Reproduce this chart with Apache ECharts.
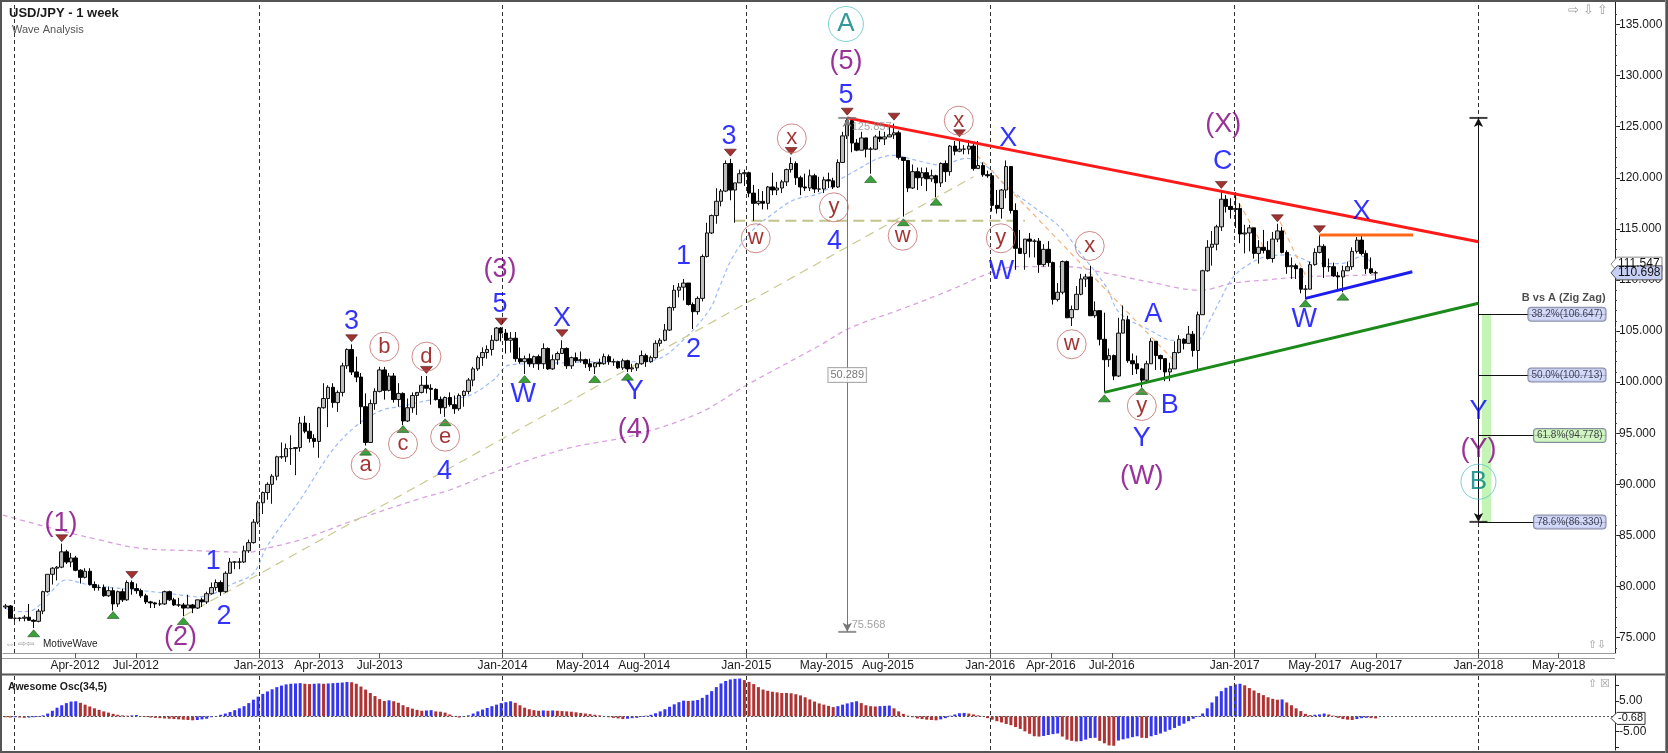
<!DOCTYPE html>
<html>
<head>
<meta charset="utf-8">
<title>USD/JPY - 1 week</title>
<script src="https://cdn.jsdelivr.net/npm/echarts@6.0.0/dist/echarts.min.js"></script>
<style>
html,body{margin:0;padding:0;background:#fff;overflow:hidden}
#chart{width:1668px;height:753px}
</style>
</head>
<body>
<div id="chart"></div>
<script>
// ================= DATA =================
const firstWeek = '2011-12-19';   // weekly candles, Monday of each week
// [open, high, low, close]
const ohlc2011 = [[78.0,78.3,77.8,78.1],[78.1,78.2,76.9,76.9]];
const ohlc2012 = [
[76.9,77.3,76.6,76.9],[76.9,77.0,76.6,76.9],[76.9,77.2,76.6,77.0],[77.0,78.3,76.9,76.7],[76.7,76.8,75.95,76.6],
[76.6,77.8,76.5,77.6],[77.6,79.6,77.3,79.5],[79.5,81.2,79.4,81.2],[81.2,81.9,80.2,81.8],
[81.8,82.0,80.6,81.9],[81.9,84.2,81.8,83.4],[83.4,83.6,82.2,82.4],[82.4,83.3,81.9,82.8],
[82.8,83.0,81.5,81.6],[81.6,81.7,80.3,80.9],[80.9,81.8,80.8,81.5],[81.5,81.8,80.1,80.2],[80.2,80.5,79.6,79.9],
[79.9,80.2,79.6,79.9],[79.9,80.2,79.0,79.1],[79.1,80.0,79.0,79.6],[79.6,79.9,77.65,78.3],
[78.3,79.6,78.0,79.5],[79.5,79.8,78.5,78.7],[78.7,80.6,78.6,80.4],[80.4,80.6,79.2,79.8],
[79.8,80.3,79.3,79.6],[79.6,79.8,78.9,79.1],[79.1,79.3,78.3,78.5],[78.5,78.6,77.9,78.4],[78.4,78.5,77.9,78.3],
[78.3,78.7,78.1,78.3],[78.3,79.6,78.2,79.5],[79.5,79.6,78.6,78.7],[78.7,78.9,78.1,78.2],
[78.2,78.9,78.0,78.2],[78.2,78.4,77.1,77.9],[77.9,79.2,77.9,78.2],[78.2,78.3,77.4,77.9],
[77.9,78.7,77.8,78.7],[78.7,78.9,78.0,78.5],[78.5,79.5,78.3,79.3],[79.3,80.4,79.2,79.9],[79.9,80.7,79.6,80.4],
[80.4,80.6,79.1,79.5],[79.5,81.5,79.4,81.3],[81.3,82.8,81.3,82.4],[82.4,82.5,81.7,82.4],
[82.4,82.8,81.7,82.4],[82.4,84.0,82.3,83.5],[83.5,84.6,83.3,84.3],[84.3,86.6,84.2,86.3],[86.3,88.4,86.1,88.2]];
const ohlc2013 = [
[88.2,89.3,87.1,89.2],[89.2,90.2,88.5,90.0],[90.0,91.0,88.1,90.8],[90.8,92.8,90.4,92.7],
[92.7,94.1,92.5,92.7],[92.7,94.0,92.2,93.5],[93.5,94.8,91.9,93.5],[93.5,93.5,90.9,93.6],
[93.6,96.6,93.2,96.0],[96.0,96.7,95.0,95.2],[95.2,96.0,94.1,94.5],[94.5,94.9,93.6,94.2],
[94.2,97.6,92.6,97.5],[97.5,99.9,97.4,98.4],[98.4,99.7,95.6,99.5],[99.5,99.9,97.5,98.0],[98.0,99.2,97.1,99.0],
[99.0,101.9,98.6,101.6],[101.6,103.3,101.3,103.2],[103.2,103.7,100.7,101.0],[101.0,102.5,100.0,100.5],
[100.5,100.9,95.9,97.6],[97.6,98.9,93.8,94.1],[94.1,98.3,94.1,97.9],[97.9,99.4,97.3,99.1],
[99.1,101.5,99.0,101.2],[101.2,101.5,98.3,99.2],[99.2,100.9,99.1,100.6],[100.6,100.9,98.0,98.3],[98.3,99.9,97.6,98.9],
[98.9,99.0,95.8,96.2],[96.2,98.4,96.1,97.5],[97.5,99.0,97.0,98.7],[98.7,98.9,96.8,99.0],
[99.0,100.6,98.9,99.7],[99.7,100.6,98.9,99.4],[99.4,99.8,97.8,99.3],[99.3,99.4,98.2,98.3],[98.3,98.6,96.9,97.5],
[97.5,98.6,96.6,98.5],[98.5,99.0,97.6,97.8],[97.8,98.7,96.9,97.4],[97.4,98.9,97.2,98.7],
[98.7,99.2,97.6,99.1],[99.1,100.4,98.8,100.2],[100.2,101.5,99.6,101.3],[101.3,102.6,101.1,102.4],
[102.4,103.4,101.6,102.9],[102.9,103.6,102.3,103.2],[103.2,104.6,102.6,104.1],[104.1,105.4,104.0,105.3],[105.3,105.4,104.0,104.8]];
const ohlc2014 = [
[104.8,105.2,102.8,104.1],[104.1,104.9,102.9,104.3],[104.3,104.9,102.0,102.3],[102.3,103.4,101.8,102.0],
[102.0,102.6,100.8,102.3],[102.3,102.8,101.5,101.8],[101.8,102.6,101.4,102.5],[102.5,102.7,101.2,101.8],
[101.8,103.8,101.3,103.3],[103.3,103.4,101.2,101.3],[101.3,102.7,101.2,102.2],[102.2,103.0,101.7,102.8],[102.8,104.1,102.8,103.3],
[103.3,103.4,101.3,101.6],[101.6,102.5,101.3,102.4],[102.4,102.9,101.9,102.1],[102.1,103.0,101.9,102.2],
[102.2,102.3,101.4,101.8],[101.8,102.3,101.1,101.5],[101.5,101.8,100.8,101.9],[101.9,102.3,101.5,101.8],
[101.8,102.8,101.7,102.5],[102.5,102.7,101.7,102.0],[102.0,102.3,101.6,102.0],[102.0,102.1,101.3,101.4],[101.4,102.3,101.2,102.1],
[102.1,102.2,101.0,101.3],[101.3,101.8,101.0,101.4],[101.4,101.9,101.1,101.8],[101.8,103.1,101.7,102.6],
[102.6,102.8,101.5,102.0],[102.0,102.6,101.9,102.4],[102.4,104.1,102.3,103.8],[103.8,104.3,103.5,104.1],
[104.1,105.7,104.0,105.1],[105.1,107.4,105.0,107.3],[107.3,109.5,107.0,109.0],[109.0,109.7,108.3,109.3],[109.3,110.1,108.0,109.7],
[109.7,109.7,107.5,107.6],[107.6,107.8,105.2,106.9],[106.9,108.4,106.6,108.2],[108.2,112.5,107.9,112.3],
[112.3,115.6,112.2,114.6],[114.6,116.4,114.5,116.3],[116.3,118.98,115.5,117.7],[117.7,118.9,117.2,118.7],
[118.7,121.7,118.6,121.4],[121.4,121.85,117.8,118.8],[118.8,119.5,115.6,119.5],[119.5,120.8,119.5,120.4],[120.4,120.8,119.2,120.5]];
const ohlc2015 = [
[120.5,120.6,118.1,118.5],[118.5,119.3,115.8,117.5],[117.5,118.9,117.3,117.7],[117.7,118.7,116.9,117.5],
[117.5,119.2,116.9,119.1],[119.1,120.5,118.3,118.8],[118.8,119.6,118.3,119.0],[119.0,119.8,118.5,119.6],
[119.6,120.9,119.2,120.8],[120.8,122.0,120.5,121.4],[121.4,121.6,119.3,120.0],[120.0,120.2,118.3,119.1],[119.1,120.4,118.7,119.0],
[119.0,120.8,118.7,120.2],[120.2,120.4,118.5,118.9],[118.9,120.1,118.6,118.9],[118.9,120.1,118.5,119.8],
[119.8,120.5,119.0,119.7],[119.7,120.0,118.9,119.1],[119.1,121.8,119.0,121.5],[121.5,124.5,121.5,124.1],
[124.1,125.86,123.8,125.6],[125.6,125.7,122.5,123.4],[123.4,123.8,122.6,122.7],[122.7,124.5,122.7,123.9],[123.9,123.9,122.0,122.8],
[122.8,123.0,120.4,122.8],[122.8,124.2,122.7,124.0],[124.0,124.6,123.5,123.8],[123.8,124.5,123.2,124.0],
[124.0,125.1,124.0,124.2],[124.2,125.3,123.8,124.4],[124.4,124.6,121.8,122.0],[122.0,122.0,116.2,121.7],[121.7,121.7,118.6,119.0],
[119.0,121.3,118.9,120.6],[120.6,121.0,118.8,120.0],[120.0,121.0,119.2,120.5],[120.5,121.0,118.7,119.9],
[119.9,120.8,119.6,120.2],[120.2,120.3,118.1,119.5],[119.5,121.5,119.1,121.4],[121.4,121.7,119.6,120.6],
[120.6,123.2,120.2,123.1],[123.1,123.6,122.2,122.6],[122.6,123.8,122.5,122.8],[122.8,123.2,122.3,122.8],[122.8,123.7,122.3,123.1],
[123.1,123.3,120.7,120.9],[120.9,123.6,120.9,121.2],[121.2,121.5,120.1,120.3],[120.3,120.7,120.0,120.2]];
const ohlc2016 = [
[120.2,120.5,116.7,117.3],[117.3,118.8,116.5,117.0],[117.0,118.9,116.0,118.8],[118.8,121.7,118.0,121.1],
[121.1,121.1,116.5,116.8],[116.8,117.5,111.0,113.1],[113.1,114.9,112.6,112.6],[112.6,114.0,111.0,114.0],[114.0,114.6,112.2,113.8],
[113.8,114.0,112.2,113.8],[113.8,114.1,110.7,111.5],[111.5,113.5,111.3,113.0],[113.0,113.8,111.3,111.7],
[111.7,111.8,107.6,108.1],[108.1,109.7,107.9,108.8],[108.8,111.9,108.6,111.8],[111.8,111.9,106.3,106.3],
[106.3,107.5,105.5,107.1],[107.1,109.4,107.1,108.6],[108.6,110.6,108.5,110.1],[110.1,110.6,109.3,110.3],[110.3,111.4,106.5,106.5],
[106.5,107.9,106.3,107.0],[107.0,107.0,103.6,104.2],[104.2,106.8,99.0,102.2],[102.2,103.3,101.5,102.6],
[102.6,102.7,100.2,100.6],[100.6,106.3,100.5,104.8],[104.8,107.5,104.8,106.1],[106.1,106.5,101.9,102.1],
[102.1,102.8,100.7,101.8],[101.8,102.6,100.8,101.3],[101.3,101.4,99.5,100.2],[100.2,102.1,99.9,101.8],[101.8,104.3,101.8,104.0],
[104.0,104.0,101.2,102.6],[102.6,102.7,101.2,102.3],[102.3,102.3,100.1,101.0],[101.0,101.9,100.1,101.3],
[101.3,104.0,101.3,102.9],[102.9,104.6,102.8,104.2],[104.2,104.3,103.2,103.8],[103.8,105.5,103.8,104.7],[104.7,105.0,102.5,103.1],
[103.1,106.9,101.2,106.6],[106.6,111.0,106.6,110.9],[110.9,113.9,110.8,113.2],[113.2,114.8,111.4,113.5],
[113.5,115.4,112.9,115.2],[115.2,118.66,114.8,117.9],[117.9,118.3,116.6,117.2],[117.2,118.0,116.0,116.9]];
const ohlc2017 = [
[116.9,118.6,115.1,117.0],[117.0,117.5,113.6,114.5],[114.5,115.4,112.6,114.6],[114.6,115.4,112.8,115.1],[115.1,115.1,112.1,112.6],
[112.6,113.9,111.6,113.2],[113.2,114.9,112.6,112.9],[112.9,113.8,112.0,112.1],[112.1,114.7,111.7,114.0],
[114.0,115.5,113.7,114.8],[114.8,115.2,112.6,112.7],[112.7,112.9,110.6,111.3],[111.3,112.2,110.1,111.4],
[111.4,111.6,110.1,111.1],[111.1,111.2,108.7,109.1],[109.1,109.5,108.1,109.1],[109.1,111.8,109.1,111.5],
[111.5,113.1,111.4,112.7],[112.7,114.37,112.6,113.3],[113.3,113.5,110.2,111.3],[111.3,112.1,110.8,111.3],[111.3,111.7,110.3,110.4],
[110.4,110.8,109.1,110.3],[110.3,111.4,108.8,110.9],[110.9,111.8,110.9,111.3],[111.3,113.2,111.0,112.8],
[112.8,114.2,112.6,113.9],[113.9,114.5,112.4,112.6],[112.6,112.9,110.6,111.1],[111.1,112.2,110.6,110.7],[110.7,110.9,109.9,110.7]];

// Awesome Oscillator (34,5), one value per weekly candle
const ao2011 = [-0.3,-0.4];
const ao2012 = [-0.3,-0.4,-0.5,-0.4,-0.3,-0.2,0.3,0.9,1.8,2.8,3.6,4.3,4.8,4.9,4.4,3.8,3.2,2.6,2.1,1.6,1.2,0.8,0.5,0.3,0.2,0.3,0.4,0.1,-0.2,-0.4,-0.5,-0.6,-0.7,-0.8,-0.9,-1.0,-1.1,-1.2,-1.3,-1.2,-1.0,-0.8,-0.3,0.1,0.5,0.9,1.4,2.0,2.6,3.3,4.3,5.4,6.4];
const ao2013 = [7.3,8.1,8.8,9.5,10.0,10.4,10.6,10.7,10.8,10.6,10.5,10.6,10.7,10.6,10.7,10.8,10.9,11.0,11.2,11.1,10.6,9.7,8.7,7.6,6.6,5.6,5.0,5.2,4.9,4.4,3.6,3.0,2.5,2.1,1.8,1.9,2.0,1.6,1.5,1.2,0.6,0.1,-0.4,-0.2,0.3,0.9,1.6,2.2,2.7,3.3,3.8,4.3];
const ao2014 = [4.6,4.9,4.4,3.6,2.8,2.3,2.0,1.8,1.9,1.8,1.9,1.8,1.7,1.6,1.5,1.3,1.1,0.9,0.7,0.5,0.3,0.1,-0.3,-0.5,-0.7,-0.9,-0.8,-0.6,-0.5,-0.2,0.2,0.5,1.0,1.6,2.3,3.1,3.9,4.6,5.1,5.0,5.1,5.3,6.0,7.0,8.2,9.5,10.7,11.5,12.0,12.2,12.3,11.8];
const ao2015 = [11.2,10.5,9.5,8.7,8.3,8.0,7.8,7.6,7.6,7.5,7.2,6.8,6.2,5.5,4.8,4.2,3.8,3.4,3.0,3.3,3.8,4.2,4.6,4.9,4.3,3.6,3.3,3.2,3.3,3.4,3.5,2.6,1.6,0.8,0.2,-0.3,-0.7,-0.9,-1.1,-1.2,-1.3,-1.0,-0.6,0.2,0.6,1.0,1.1,0.9,0.6,0.3,-0.1,-0.6];
const ao2016 = [-1.1,-1.6,-2.0,-2.5,-2.9,-3.5,-4.1,-4.9,-5.7,-6.5,-6.6,-6.4,-6.1,-5.8,-5.6,-6.6,-7.6,-8.0,-8.2,-8.1,-7.6,-7.1,-7.0,-8.0,-8.8,-9.5,-9.6,-7.9,-7.5,-7.2,-6.8,-6.5,-7.0,-7.1,-6.5,-6.1,-5.6,-5.0,-4.4,-3.8,-3.1,-2.4,-1.6,-0.8,-0.2,0.9,2.6,4.5,6.5,8.2,9.3,9.9];
const ao2017 = [10.4,10.6,10.1,9.2,8.4,7.6,6.9,6.2,5.7,5.4,5.5,4.5,3.6,2.6,1.7,0.8,0.4,0.5,0.6,0.9,0.6,0.2,-0.5,-0.9,-1.1,-1.2,-0.9,-0.6,-0.5,-0.6,-0.68];

// moving averages [date, price]
const maFast = [['2011-12-17',77.9],['2012-01-09',77.55],['2012-01-29',77.7],['2012-02-23',79.35],['2012-03-19',80.65],['2012-04-23',80.15],['2012-06-27',79.7],['2012-08-16',79.35],['2012-10-05',79.0],['2012-11-24',80.3],['2012-12-24',81.3],['2013-01-13',83.9],['2013-03-04',88.5],['2013-04-22',93.4],['2013-06-01',96.0],['2013-07-06',97.3],['2013-07-31',97.6],['2013-09-19',98.3],['2013-11-08',98.6],['2013-12-18',100.2],['2014-01-12',101.7],['2014-03-13',101.85],['2014-05-27',102.0],['2014-07-16',102.0],['2014-08-25',102.35],['2014-09-28',104.1],['2014-11-07',107.1],['2014-11-22',109.35],['2014-12-12',112.3],['2015-01-11',114.9],['2015-02-10',116.5],['2015-03-12',117.8],['2015-04-21',118.5],['2015-06-05',120.4],['2015-08-09',122.2],['2015-09-13',121.7],['2015-10-18',121.25],['2015-11-27',121.9],['2015-12-27',121.1],['2016-01-26',119.1],['2016-03-05',117.2],['2016-04-14',115.2],['2016-05-19',112.3],['2016-06-23',109.3],['2016-07-13',106.75],['2016-08-27',105.1],['2016-10-01',104.1],['2016-11-05',104.1],['2016-11-25',106.1],['2016-12-10',108.0],['2016-12-30',110.3],['2017-01-24',111.6],['2017-02-18',112.3],['2017-03-25',112.45],['2017-05-04',111.6],['2017-06-08',111.6],['2017-07-12',112.3],['2017-07-27',111.5]];
const maSlow = [['2011-12-15',87.0],['2012-03-09',85.5],['2012-05-08',84.56],['2012-07-07',83.75],['2012-10-05',83.5],['2012-12-19',83.36],['2013-01-03',83.6],['2013-03-04',84.56],['2013-05-18',86.35],['2013-08-30',88.6],['2013-10-14',89.45],['2013-12-28',91.4],['2014-04-07',93.5],['2014-07-16',94.8],['2014-10-23',97.0],['2015-01-01',99.7],['2015-04-21',103.6],['2015-06-05',105.3],['2015-08-19',107.1],['2015-11-02',109.0],['2016-01-01',110.7],['2016-02-10',111.3],['2016-04-24',111.3],['2016-06-13',110.8],['2016-08-27',109.8],['2016-11-10',109.0],['2016-12-30',109.7],['2017-02-18',110.0],['2017-04-09',110.3],['2017-05-29',110.4],['2017-08-01',110.5]];

// trend lines [date, price]
const redLine = [['2015-06-01',125.86],['2018-01-01',113.75]];
const greenLine = [['2016-06-20',99.0],['2018-01-01',107.72]];
const blueLine = [['2017-04-17',108.2],['2017-09-24',110.8]];
const orangeLine = [['2017-05-08',114.4],['2017-09-25',114.4]];
const tanDiag = [['2012-09-11',77.13],['2015-12-07',120.1]];
const tanFlat = [['2014-12-14',115.8],['2016-02-22',115.8]];
const orangeDash1 = [['2015-12-12',122.2],['2016-10-06',101.85]];
const orangeDash2 = [['2017-01-01',118.3],['2017-02-13',113.26]];
const orangeDash3 = [['2017-03-10',115.7],['2017-04-19',110.17]];

// measuring tools
const measure1 = {date:'2015-06-01', top:125.857, bottom:75.568, diff:'50.289'};
const measure2 = {date:'2018-01-01', top:125.857, bottom:86.330};
const fibNames = ['38.2%','50.0%','61.8%','78.6%'];
const fibValues = [106.647, 100.713, 94.778, 86.330];
const fibLabelDate = '2018-07-11';
const fibZone = [['2018-01-06',106.647],['2018-01-20',86.330]];

// wave labels [date, price, text]
const purpleLabels = [['2012-03-11',86.2,'(1)'],['2012-09-06',75.05,'(2)'],['2013-12-28',110.98,'(3)'],['2014-07-17',95.32,'(4)'],['2015-05-30',131.36,'(5)'],['2016-08-15',90.75,'(W)'],['2016-12-15',125.17,'(X)'],['2018-01-01',93.37,'(Y)']];
const blueLabels = [['2012-10-25',82.44,'1'],['2012-11-10',77.06,'2'],['2013-05-20',105.92,'3'],['2013-10-06',91.24,'4'],['2013-12-28',107.55,'5'],['2014-02-01',98.75,'W'],['2014-03-31',106.25,'X'],['2014-07-18',99.07,'Y'],['2014-09-29',112.28,'1'],['2014-10-14',103.15,'2'],['2014-12-06',124.02,'3'],['2015-05-13',113.75,'4'],['2015-05-30',128.0,'5'],['2016-01-28',123.86,'X'],['2016-01-18',110.81,'W'],['2016-09-01',106.58,'A'],['2016-09-26',97.67,'B'],['2016-08-15',94.51,'Y'],['2016-12-14',121.58,'C'],['2017-07-10',116.68,'X'],['2017-04-15',106.14,'W'],['2018-01-01',97.11,'Y']];
const circleLabels = [['2013-06-10',91.9,'a'],['2013-07-08',103.47,'b'],['2013-08-05',93.95,'c'],['2013-09-09',102.5,'d'],['2013-10-07',94.67,'e'],['2015-01-15',114.08,'w'],['2015-03-10',123.86,'x'],['2015-05-12',117.11,'y'],['2015-08-23',114.33,'w'],['2015-11-15',125.59,'x'],['2016-01-17',114.08,'y'],['2016-05-29',113.33,'x'],['2016-05-02',103.71,'w'],['2016-08-15',97.67,'y']];
const tealLabels = [['2015-05-30',135.05,'A'],['2018-01-01',90.26,'B']];
const highMarks = [['2012-03-12',84.73],['2012-06-25',81.13],['2013-05-20',104.3],['2013-09-09',101.2],['2013-12-30',105.92],['2014-03-31',104.78],['2014-12-08',122.46],['2015-03-09',122.62],['2015-06-01',126.47],['2015-08-10',125.98],['2015-11-16',124.35],['2016-12-12',119.3],['2017-03-06',116.04],['2017-05-08',114.96]];
const lowMarks = [['2012-01-30',75.43],['2012-05-28',77.22],['2012-09-10',76.63],['2013-06-10',93.2],['2013-08-05',95.42],['2013-10-07',96.08],['2014-02-03',100.31],['2014-05-19',100.31],['2014-07-07',100.54],['2015-07-06',119.88],['2015-08-24',115.65],['2015-10-12',117.66],['2016-06-20',98.42],['2016-08-15',99.14],['2017-04-17',107.72],['2017-06-12',108.37]];

// axes
const xTickLabels = ['2012-04-01','2012-07-01','2013-01-01','2013-04-01','2013-07-01','2014-01-01','2014-05-01','2014-08-01','2015-01-01','2015-05-01','2015-08-01','2016-01-01','2016-04-01','2016-07-01','2017-01-01','2017-05-01','2017-08-01','2018-01-01','2018-05-01'];
const yearLines = ['2012-01-01','2013-01-01','2014-01-01','2015-01-01','2016-01-01','2017-01-01','2018-01-01'];
const yTickLabels = [75,80,85,90,95,100,105,110,115,120,125,130,135];
const oscTickLabels = [5,-5];
const lastClose = 110.698, lastMA = 111.547, lastAO = -0.68;

// ================= CHART =================
const FONT = '"Liberation Sans", Arial, Helvetica, sans-serif';
const MON = ['Jan','Feb','Mar','Apr','May','Jun','Jul','Aug','Sep','Oct','Nov','Dec'];
function J(s){const p=s.split('-').map(Number);return new Date(p[0],p[1]-1,p[2]).getTime();}
const DAY = 86400000;
const ohlcAll = [].concat(ohlc2011, ohlc2012, ohlc2013, ohlc2014, ohlc2015, ohlc2016, ohlc2017);
const aoAll = [].concat(ao2011, ao2012, ao2013, ao2014, ao2015, ao2016, ao2017);
const fp = firstWeek.split('-').map(Number);
const weeks = ohlcAll.map((d,i)=> new Date(fp[0], fp[1]-1, fp[2] + 7*i).getTime());
const candleData = ohlcAll.map((d,i)=>[weeks[i], d[0], d[3], d[2], d[1]]);
const AO_BLUE = '#3636f2', AO_RED = '#b03232';
const aoData = aoAll.map((v,i)=>({value:[weeks[i], v], itemStyle:{color:(i>0 && v>aoAll[i-1]) ? AO_BLUE : AO_RED}}));

const xMin = J('2012-01-01') - 16.9*DAY;
const xMax = J('2012-01-01') + 2396.4*DAY;
const pts = a => a.map(p=>[J(p[0]), p[1]]);

function lineSeries(data, color, width, type, z, smooth){
  return {type:'line', xAxisIndex:0, yAxisIndex:0, data:pts(data), showSymbol:false, symbol:'none', smooth:smooth||false,
    lineStyle:{color, width, type}, silent:true, z, animation:false, emphasis:{disabled:true}};
}
function textSeries(arr, color, size, z){
  return {type:'scatter', xAxisIndex:0, yAxisIndex:0, symbolSize:1, silent:true, z, animation:false,
    itemStyle:{color:'rgba(0,0,0,0)'}, emphasis:{disabled:true},
    label:{show:true, position:'inside', formatter:p=>p.data[2], color, fontSize:size, fontFamily:FONT},
    data: arr.map(a=>[J(a[0]), a[1], a[2]])};
}
function circleSeries(arr, color, ring, size, fs, z){
  return {type:'scatter', xAxisIndex:0, yAxisIndex:0, symbol:'circle', symbolSize:size, silent:true, z, animation:false,
    itemStyle:{color:'rgba(255,255,255,0)', borderColor:ring, borderWidth:1}, emphasis:{disabled:true},
    label:{show:true, position:'inside', formatter:p=>p.data[2], color, fontSize:fs, fontFamily:FONT},
    data: arr.map(a=>[J(a[0]), a[1], a[2]])};
}

const chart = echarts.init(document.getElementById('chart'), null, {renderer:'canvas'});
const axisTextColor = '#1a1a1a';

const option = {
  animation:false,
  backgroundColor:'#ffffff',
  textStyle:{fontFamily:FONT},
  grid:[
    {left:3, right:53, top:2, height:651},
    {left:3, right:53, top:674, height:76}
  ],
  xAxis:[
    {type:'value', gridIndex:0, min:xMin, max:xMax, scale:true,
      axisLine:{show:true, onZero:false, lineStyle:{color:'#9a9a9a', width:1}},
      axisTick:{show:true, length:5, inside:false, customValues:xTickLabels.map(J), lineStyle:{color:'#555'}},
      axisLabel:{show:true, customValues:xTickLabels.map(J), margin:7, fontSize:12, color:axisTextColor, fontFamily:FONT,
        formatter:v=>{const d=new Date(v);return MON[d.getMonth()]+'-'+d.getFullYear();}},
      splitLine:{show:false}},
    {type:'value', gridIndex:1, min:xMin, max:xMax, scale:true, show:false, splitLine:{show:false}}
  ],
  yAxis:[
    {type:'value', gridIndex:0, position:'right', min:73.5, max:137.2, scale:true,
      axisLine:{show:true, onZero:false, lineStyle:{color:'#222'}},
      axisTick:{show:true, length:5, inside:false, customValues:yTickLabels, lineStyle:{color:'#222'}},
      axisLabel:{show:true, customValues:yTickLabels, margin:4, fontSize:12, color:axisTextColor, fontFamily:FONT, formatter:v=>v.toFixed(3)},
      splitLine:{show:false}},
    {type:'value', gridIndex:0, position:'right', min:73.5, max:137.2, scale:true,
      axisLine:{show:false},
      axisTick:{show:true, length:2, inside:false, customValues:Array.from({length:63},(_,k)=>74+k), lineStyle:{color:'#444'}},
      axisLabel:{show:false}, splitLine:{show:false}},
    {type:'value', gridIndex:1, position:'right', min:-10.98, max:13.78, scale:true,
      axisLine:{show:true, onZero:false, lineStyle:{color:'#222'}},
      axisTick:{show:true, length:4, inside:false, customValues:[-10,-5,0,5,10], lineStyle:{color:'#222'}},
      axisLabel:{show:true, customValues:oscTickLabels, margin:4, fontSize:12, color:axisTextColor, fontFamily:FONT, formatter:v=>v.toFixed(2)},
      splitLine:{show:false}}
  ],
  series:[
    Object.assign(lineSeries(maSlow, '#d9a2de', 1.3, [5,4], 1, 0.35), {
      markLine:{silent:true, symbol:'none', animation:false, label:{show:false},
        lineStyle:{color:'#333', width:1, type:[4,3]},
        data: yearLines.map(d=>({xAxis:J(d)}))}
    }),
    lineSeries(maFast, '#9dbbf6', 1.2, [4,3], 1, 0.35),
    lineSeries(tanDiag, '#c9c98f', 1.2, [9,6], 1),
    lineSeries(tanFlat, '#c3c38c', 2, [11,6], 1),
    lineSeries(orangeDash1, '#f4b27c', 1.2, [5,4], 1),
    lineSeries(orangeDash2, '#f4b27c', 1.2, [5,4], 1),
    lineSeries(orangeDash3, '#f4b27c', 1.2, [5,4], 1),
    {type:'candlestick', xAxisIndex:0, yAxisIndex:0, data:candleData, encode:{x:0, y:[1,2,3,4]},
      barWidth:4, silent:true, z:3, animation:false,
      itemStyle:{color:'#bdbdbd', color0:'#000000', borderColor:'#111111', borderColor0:'#000000', borderWidth:1}},
    lineSeries(redLine, '#ff1a1a', 3, 'solid', 6),
    lineSeries(greenLine, '#1b8a1b', 3, 'solid', 6),
    lineSeries(blueLine, '#1c1cf0', 3, 'solid', 6),
    lineSeries(orangeLine, '#ff6a1a', 3, 'solid', 6),
    {type:'scatter', xAxisIndex:0, yAxisIndex:0, symbol:'rect', symbolSize:[18,2], silent:true, z:7, animation:false,
      itemStyle:{color:'#777'}, emphasis:{disabled:true},
      data:[[J(measure1.date), measure1.top],[J(measure1.date), measure1.bottom]],
      markLine:{silent:true, animation:false, symbol:['arrow','arrow'], symbolSize:[7,9], label:{show:false},
        lineStyle:{color:'#777', width:1, type:'solid'},
        data:[[{coord:[J(measure1.date), measure1.top]},{coord:[J(measure1.date), measure1.bottom]}]]}},
    {type:'scatter', xAxisIndex:0, yAxisIndex:0, symbolSize:1, silent:true, z:8, animation:false,
      itemStyle:{color:'rgba(0,0,0,0)'}, emphasis:{disabled:true},
      data:[
        {value:[J(measure1.date)+6*DAY, measure1.top-0.85], label:{show:true, position:'right', distance:0, formatter:String(measure1.top.toFixed(3)), color:'#8a8a8a', fontSize:11}},
        {value:[J(measure1.date), (measure1.top+measure1.bottom)/2], label:{show:true, position:'inside', formatter:measure1.diff, color:'#555', fontSize:11, backgroundColor:'#ffffff', borderColor:'#999', borderWidth:1, padding:[2,2,1,2]}},
        {value:[J(measure1.date)+6*DAY, measure1.bottom+0.67], label:{show:true, position:'right', distance:0, formatter:String(measure1.bottom.toFixed(3)), color:'#8a8a8a', fontSize:11}}
      ]},
    {type:'scatter', xAxisIndex:0, yAxisIndex:0, symbol:'rect', symbolSize:[18,2], silent:true, z:7, animation:false,
      itemStyle:{color:'#111'}, emphasis:{disabled:true},
      data:[[J(measure2.date), measure2.top],[J(measure2.date), measure2.bottom]],
      markArea:{silent:true, animation:false, itemStyle:{color:'#c4f5b6'},
        data:[[{coord:[J(fibZone[0][0]), fibZone[0][1]]},{coord:[J(fibZone[1][0]), fibZone[1][1]]}]]},
      markLine:{silent:true, animation:false, symbol:['arrow','arrow'], symbolSize:[7,9], label:{show:false},
        lineStyle:{color:'#111', width:1, type:'solid'},
        data:[[{coord:[J(measure2.date), measure2.top]},{coord:[J(measure2.date), measure2.bottom]}]].concat(
          fibValues.map(v=>[{coord:[J(measure2.date), v], symbol:'none'},{coord:[J(fibLabelDate), v], symbol:'none'}]))}},
    {type:'scatter', xAxisIndex:0, yAxisIndex:0, symbolSize:1, silent:true, z:9, animation:false,
      itemStyle:{color:'rgba(0,0,0,0)'}, emphasis:{disabled:true},
      data: fibValues.map((v,i)=>({value:[J(fibLabelDate), v], label:{show:true, position:'left', distance:0,
          formatter: fibNames[i]+'('+v.toFixed(3)+')', color:'#1a1a2a', fontSize:10, fontFamily:FONT,
          backgroundColor: i===2 ? '#c6f2b4' : '#c8d0f6', borderColor:'#6a6f8a', borderWidth:1, borderRadius:3, padding:[2,3,1,3]}}))
        .concat([{value:[J(fibLabelDate), 108.27], label:{show:true, position:'left', distance:0, formatter:'B vs A (Zig Zag)', color:'#222', fontSize:11, fontWeight:'bold', fontFamily:FONT}}])},
    {type:'scatter', xAxisIndex:0, yAxisIndex:0, symbol:'triangle', symbolSize:[12,7], symbolRotate:180, silent:true, z:10, animation:false,
      itemStyle:{color:'#8b0000', borderColor:'#3a0000', borderWidth:0.6}, emphasis:{disabled:true}, data:pts(highMarks)},
    {type:'scatter', xAxisIndex:0, yAxisIndex:0, symbol:'triangle', symbolSize:[12,7], silent:true, z:10, animation:false,
      itemStyle:{color:'#0a8a0a', borderColor:'#063806', borderWidth:0.6}, emphasis:{disabled:true}, data:pts(lowMarks)},
    textSeries(purpleLabels, '#800080', 27, 20),
    textSeries(blueLabels, '#0000ff', 27, 20),
    circleSeries(circleLabels, '#8b0000', '#c46a6a', 29, 22, 20),
    circleSeries(tealLabels, '#008080', '#5cc4c4', 35, 26, 20),
    {type:'bar', xAxisIndex:1, yAxisIndex:2, data:aoData, barWidth:3, silent:true, z:3, animation:false,
      markLine:{silent:true, symbol:'none', animation:false, label:{show:false},
        data: yearLines.map(d=>({xAxis:J(d), lineStyle:{color:'#333', width:1, type:[4,3]}}))
          .concat([{yAxis:0, lineStyle:{color:'#555', width:1, type:[2,2]}}])}}
  ]
};
chart.setOption(option);

// ---------- static decorations ----------
const yClose = chart.convertToPixel({yAxisIndex:0}, lastClose);
const yMA = chart.convertToPixel({yAxisIndex:0}, lastMA);
const yAO = chart.convertToPixel({yAxisIndex:2}, lastAO);
function hline(x1,y,x2,c,w){return {type:'line', silent:true, z:100, shape:{x1,y1:y,x2,y2:y}, style:{stroke:c, lineWidth:w}};}
function vline(x,y1,y2,c,w){return {type:'line', silent:true, z:100, shape:{x1:x,y1,x2:x,y2}, style:{stroke:c, lineWidth:w}};}
function txt(x,y,text,size,color,weight,align){return {type:'text', silent:true, z:120, x, y, style:{text, fontSize:size, fontFamily:FONT, fontWeight:weight||'normal', fill:color, align:align||'left', verticalAlign:'middle'}};}
function badge(y,x0,x1,h,text,fill,stroke,fs){
  return [{type:'polygon', silent:true, z:110, shape:{points:[[x0,y],[x0+6,y-h],[x1,y-h],[x1,y+h],[x0+6,y+h]]}, style:{fill, stroke, lineWidth:1}},
          {type:'text', silent:true, z:111, x:x0+7, y, style:{text, fontSize:fs, fontFamily:FONT, fill:'#111', align:'left', verticalAlign:'middle'}}];
}
const graphics = [
  hline(0,1,1668,'#555',2), vline(1,0,753,'#555',2), vline(1667,0,753,'#555',2), hline(0,752,1668,'#555',2),
  hline(0,674.5,1668,'#555',2),
  hline(2,658.5,1615,'#9a9a9a',1),
  vline(1665.5,0,753,'#888',1),
  txt(9,13.5,'USD/JPY - 1 week',13,'#1a1a1a','bold'),
  txt(12,30,'Wave Analysis',11,'#555'),
  txt(5,644,'\u21D4 \u21E8\u21E6',10,'#999'),
  txt(43,644,'MotiveWave',10,'#222'),
  txt(1568,10,'\u21E8 \u21E9 \u21E7',13,'#a0a0a0'),
  txt(1588,645,'\u21E7\u21E9',11,'#a0a0a0'),
  txt(1588,684,'\u21E7 \u2612',11,'#a0a0a0'),
  txt(8,687,'Awesome Osc(34,5)',10.5,'#1a1a1a','bold')
].concat(
  badge(yMA,1611,1662,7,lastMA.toFixed(3),'#ffffff','#888',12),
  badge(yClose,1611,1662,7,lastClose.toFixed(3),'#c7cff4','#555',12),
  badge(yAO,1611,1645,6,lastAO.toFixed(2),'#ffffff','#333',11)
);
chart.setOption({graphic:graphics});
</script>
</body>
</html>
